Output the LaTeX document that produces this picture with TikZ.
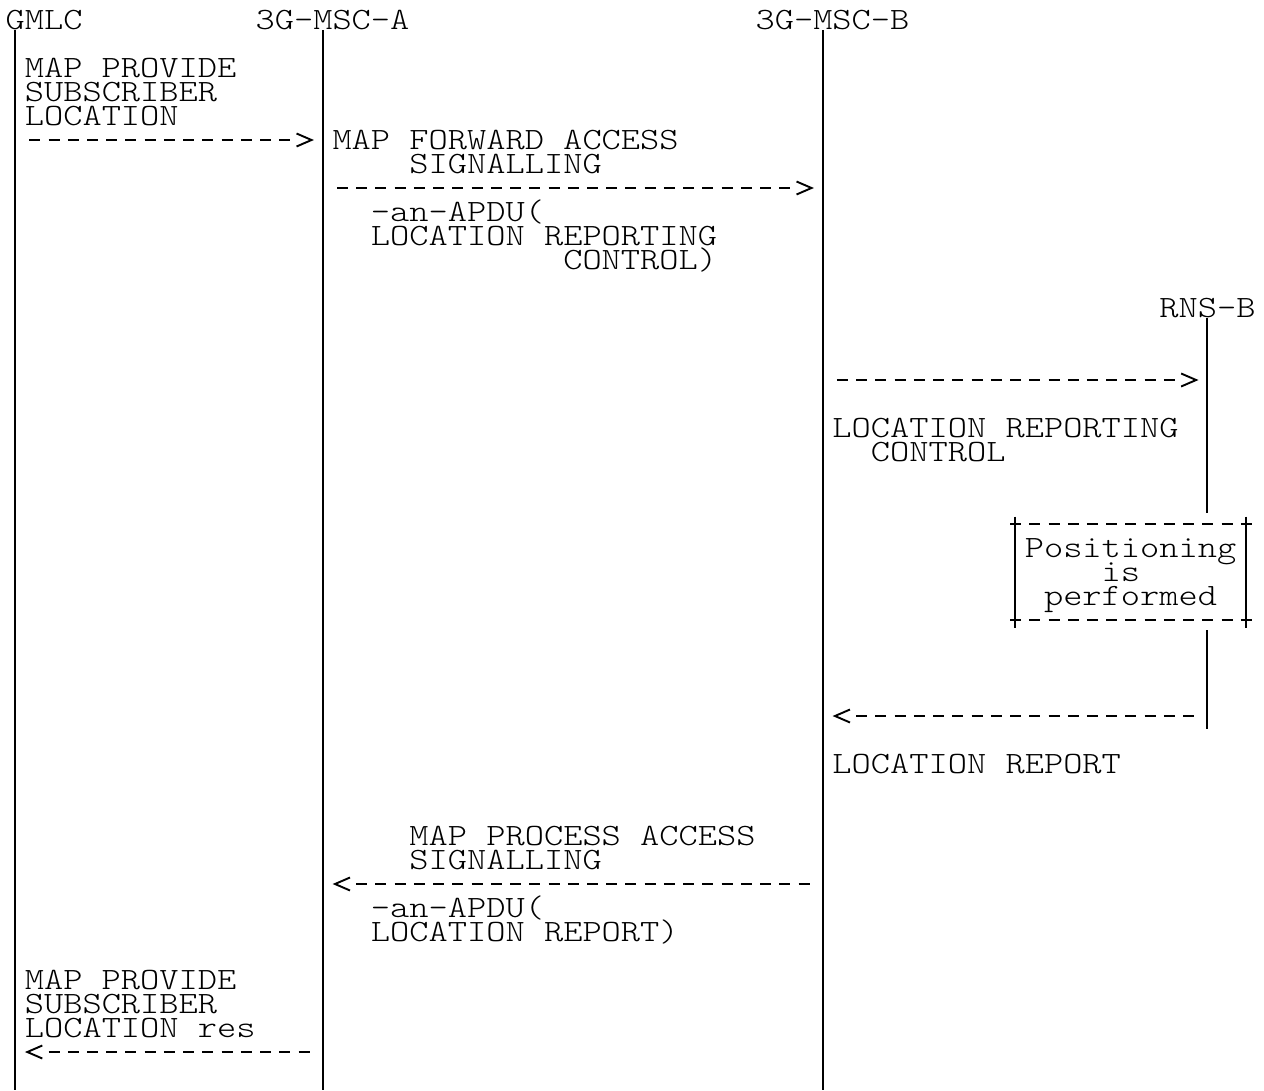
\documentclass[tikz,border=0pt]{standalone}
\usepackage{fontspec}
\usetikzlibrary{calc}
\newfontfamily\asciifont{lmmonolt10-regular.otf}[FakeStretch=1.1816]

% character grid of the chart: column c, row r
\newcommand{\cx}[1]{5.4+19.23*(#1)}  % left edge of a column
\newcommand{\ry}[1]{29+24*(#1)}      % baseline of a row
\newcommand{\my}[1]{20+24*(#1)}      % middle of a row
\newlength{\chw}\setlength{\chw}{19.23pt}
\newcommand{\indc}[1]{\hspace*{#1\chw}}

\begin{document}
\begin{tikzpicture}[x=1pt,y=-1pt,
  txt/.style={font={\asciifont\fontsize{31}{24}\selectfont\lineskiplimit=-100pt},
    inner sep=0pt, anchor=base west, text width=600pt, align=flush left,
    execute at begin node={\spaceskip=\chw\xspaceskip=\chw}},
  life/.style={line width=1.9pt, draw=black},
  shaft/.style={line width=1.9pt, draw=black, dash pattern=on 11pt off 8.23pt},
  chev/.style={line width=1.9pt, draw=black, line join=miter},
]
\useasboundingbox (0,0) rectangle (1264,1090);

% --- entity names ---
\node[txt] (gmlc) at ({\cx{0}},{\ry{0}}) {GMLC};
\node[txt] (mscA) at ({\cx{13}},{\ry{0}}) {3G-MSC-A};
\node[txt] (mscB) at ({\cx{39}},{\ry{0}}) {3G-MSC-B};
\node[txt] (rnsB) at ({\cx{60}},{\ry{12}}) {RNS-B};

% --- lifelines ---
\coordinate (gmlcTop) at ({\cx{0}+9.6},30);
\coordinate (gmlcBot) at ({\cx{0}+9.6},1090);
\coordinate (mscATop) at ({\cx{16}+9.6},30);
\coordinate (mscABot) at ({\cx{16}+9.6},1090);
\coordinate (mscBTop) at ({\cx{42}+9.6},30);
\coordinate (mscBBot) at ({\cx{42}+9.6},1090);
\coordinate (rnsTop) at ({\cx{62}+9.6},318);
\coordinate (rnsBoxN) at ({\cx{62}+9.6},513);
\coordinate (rnsBoxS) at ({\cx{62}+9.6},630);
\coordinate (rnsBot) at ({\cx{62}+9.6},729);
\draw[life] (gmlcTop) -- (gmlcBot);
\draw[life] (mscATop) -- (mscABot);
\draw[life] (mscBTop) -- (mscBBot);
\draw[life] (rnsTop) -- (rnsBoxN);
\draw[life] (rnsBoxS) -- (rnsBot);

% --- message labels ---
\node[txt] (provLbl) at ({\cx{1}},{\ry{2}}) {MAP PROVIDE\\SUBSCRIBER\\LOCATION};
\node[txt] (fwdLbl) at ({\cx{17}},{\ry{5}}) {MAP FORWARD ACCESS\\\indc{4}SIGNALLING};
\node[txt] (fwdApdu) at ({\cx{19}},{\ry{8}}) {-an-APDU(\\LOCATION REPORTING\\\indc{10}CONTROL)};
\node[txt] (lrcLbl) at ({\cx{43}},{\ry{17}}) {LOCATION REPORTING\\\indc{2}CONTROL};
\node[txt] (lrLbl) at ({\cx{43}},{\ry{31}}) {LOCATION REPORT};
\node[txt] (procLbl) at ({\cx{21}},{\ry{34}}) {MAP PROCESS ACCESS\\SIGNALLING};
\node[txt] (procApdu) at ({\cx{19}},{\ry{37}}) {-an-APDU(\\LOCATION REPORT)};
\node[txt] (resLbl) at ({\cx{1}},{\ry{40}}) {MAP PROVIDE\\SUBSCRIBER\\LOCATION res};

% --- positioning box on RNS-B ---
\node[txt] (pos) at ({\cx{53}},{\ry{22}}) {Positioning\\\indc{4}is\\\indc{1}performed};
\coordinate (boxNW) at ({\cx{52}+9.6},{\my{21}});
\coordinate (boxNE) at ({\cx{64}+9.6},{\my{21}});
\coordinate (boxSW) at ({\cx{52}+9.6},{\my{25}});
\coordinate (boxSE) at ({\cx{64}+9.6},{\my{25}});
\draw[shaft] ({\cx{52}+4.7},{\my{21}}) -- ({\cx{64}+15.7},{\my{21}});
\draw[shaft] ({\cx{52}+4.7},{\my{25}}) -- ({\cx{64}+15.7},{\my{25}});
\draw[life] ($(boxNW)+(0,-7.5)$) -- ($(boxSW)+(0,7.5)$);
\draw[life] ($(boxNE)+(0,-7.5)$) -- ($(boxSE)+(0,7.5)$);

% --- messages: dashes, then the chevron head ---
% GMLC -> 3G-MSC-A
\coordinate (m1s) at ({\cx{1}+4.7},{\my{5}});
\coordinate (m1t) at ({\cx{15}+17.7},{\my{5}});
\draw[shaft] (m1s) -- ($(m1t)+(-21.23,0)$);
\draw[chev] ($(m1t)+(-15,-6.5)$) -- (m1t) -- ($(m1t)+(-15,6.5)$);
% 3G-MSC-A -> 3G-MSC-B
\coordinate (m2s) at ({\cx{17}+4.7},{\my{7}});
\coordinate (m2t) at ({\cx{41}+17.7},{\my{7}});
\draw[shaft] (m2s) -- ($(m2t)+(-21.23,0)$);
\draw[chev] ($(m2t)+(-15,-6.5)$) -- (m2t) -- ($(m2t)+(-15,6.5)$);
% 3G-MSC-B -> RNS-B
\coordinate (m3s) at ({\cx{43}+4.7},{\my{15}});
\coordinate (m3t) at ({\cx{61}+17.7},{\my{15}});
\draw[shaft] (m3s) -- ($(m3t)+(-21.23,0)$);
\draw[chev] ($(m3t)+(-15,-6.5)$) -- (m3t) -- ($(m3t)+(-15,6.5)$);
% RNS-B -> 3G-MSC-B
\coordinate (m4t) at ({\cx{43}+2.7},{\my{29}});
\coordinate (m4s) at ({\cx{61}+15.7},{\my{29}});
\draw[shaft] ($(m4t)+(21.23,0)$) -- (m4s);
\draw[chev] ($(m4t)+(15,-6.5)$) -- (m4t) -- ($(m4t)+(15,6.5)$);
% 3G-MSC-B -> 3G-MSC-A
\coordinate (m5t) at ({\cx{17}+2.7},{\my{36}});
\coordinate (m5s) at ({\cx{41}+15.7},{\my{36}});
\draw[shaft] ($(m5t)+(21.23,0)$) -- (m5s);
\draw[chev] ($(m5t)+(15,-6.5)$) -- (m5t) -- ($(m5t)+(15,6.5)$);
% 3G-MSC-A -> GMLC
\coordinate (m6t) at ({\cx{1}+2.7},{\my{43}});
\coordinate (m6s) at ({\cx{15}+15.7},{\my{43}});
\draw[shaft] ($(m6t)+(21.23,0)$) -- (m6s);
\draw[chev] ($(m6t)+(15,-6.5)$) -- (m6t) -- ($(m6t)+(15,6.5)$);

\end{tikzpicture}
\end{document}
